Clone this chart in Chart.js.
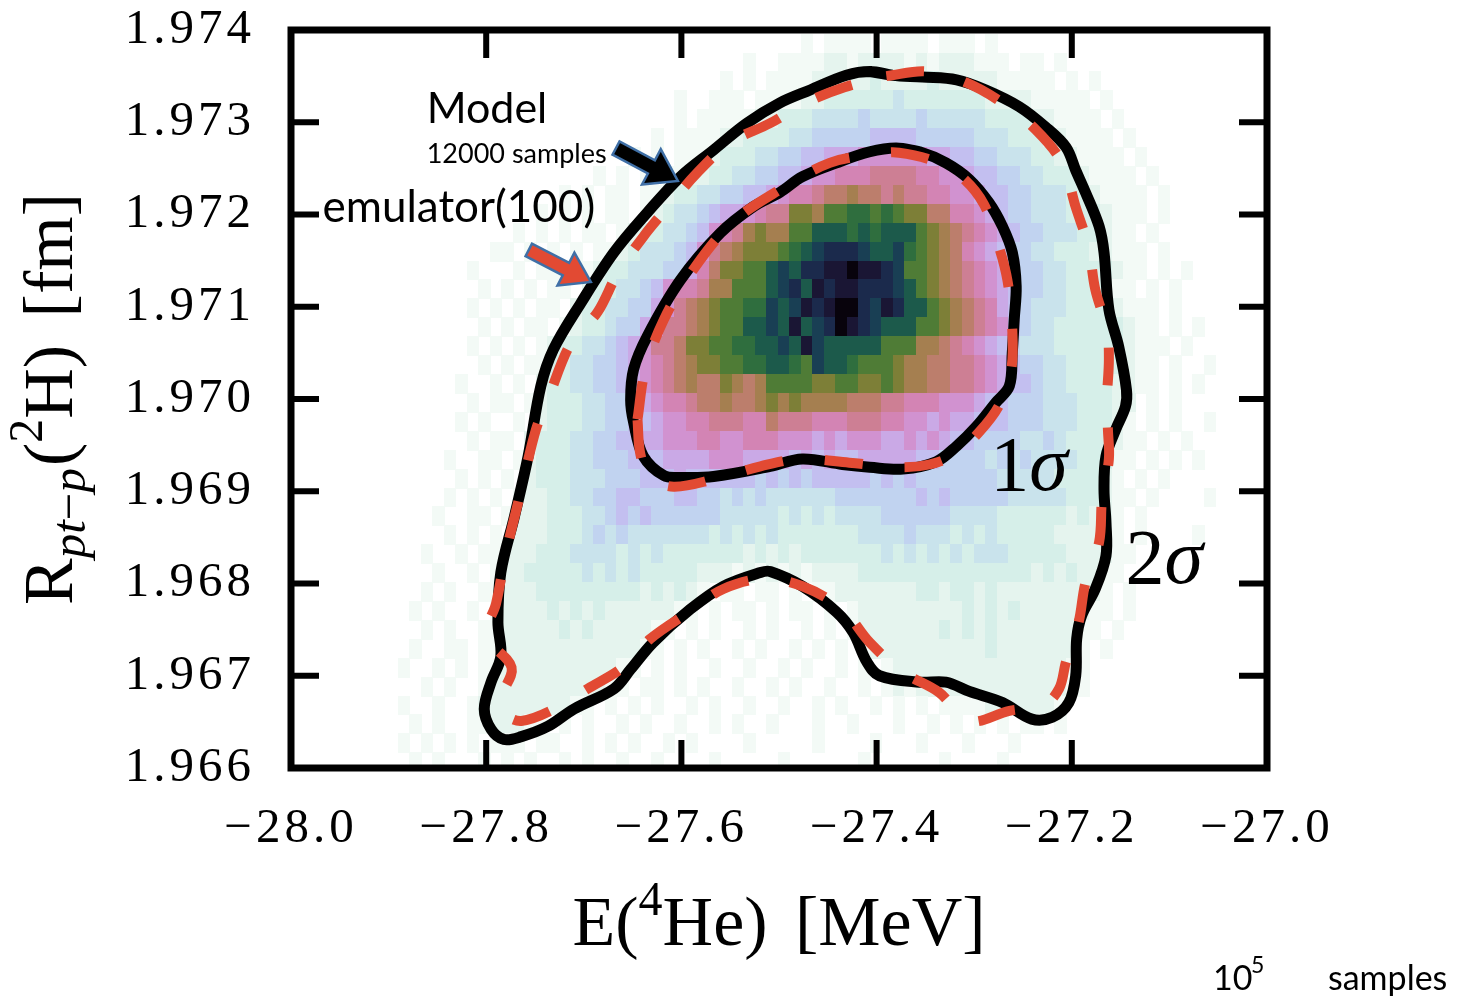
<!DOCTYPE html>
<html>
<head>
<meta charset="utf-8">
<script src="https://cdn.jsdelivr.net/npm/chart.js@4.4.1/dist/chart.umd.min.js"></script>
<style>
  html, body { margin: 0; padding: 0; background: #ffffff; }
  #wrap { width: 1460px; height: 1001px; position: relative; }
</style>
</head>
<body>
<div id="wrap"><canvas id="chart" width="1460" height="1001"></canvas></div>
<script>
// ---- axis ticks ----
const xTicks = [-28.0, -27.8, -27.6, -27.4, -27.2, -27.0];
const yTicks = [1.966, 1.967, 1.968, 1.969, 1.970, 1.971, 1.972, 1.973, 1.974];

// ---- 2D histogram of the 10^5 samples ----
// bin edges: x from histX0 in steps of histBinW, y from histY0 in steps of histBinH
const histX0 = -27.902;
const histBinW = 0.0118;
const histY0 = 1.96596;
const histBinH = 0.000205;
// density level per bin (0 = empty ... k = densest), top row first, groups of 10 bins
const histRows = [
  "0000000000 0000000000 0000000000 0000001011 1101111011 1010000000 0000000000 00",
  "0000000000 0000000000 0000000000 0100111122 1222212122 2111011010 0000000000 00",
  "0000000000 0000000000 0000000001 0101111222 2232222322 2221111101 0100000000 00",
  "0000000000 0000000000 0000010011 1011112233 3333433333 3322221111 1010000000 00",
  "0000000000 0000000000 0000010111 1122333444 4544445444 4433332211 1101000000 00",
  "0000000000 0000000000 0001011112 2333344555 5566665555 5444333221 1110100000 00",
  "0000000000 0000000000 0101011123 3344556677 7888888776 6554443322 1111010000 00",
  "0000000000 0000000010 1010112233 4455667889 99aaaa9988 7665544333 2111101000 00",
  "0000000000 0000010101 1011233445 5667899abb cbbabaa998 8766554443 3211110100 00",
  "0000000000 0001010101 1012344567 789aaddcee ffefeddbb9 9876554443 3321110100 00",
  "0000000000 0101010110 1233445689 acdcceeggg fgfgggedcb a987655444 3321101000 00",
  "0000000001 1010101011 23444568ab cdddefghii ihgghfedcb 9876554433 3221110100 00",
  "0000000100 0101101123 34445579bd deeghgiijj kjjiheedcb a987655443 3332110101 00",
  "0000000010 1010110233 4456899acc eeeghigjij jiiihgedcb a987655443 3331101010 00",
  "0000000101 0101102334 45578abcde effhghjijk kihjiggedc ba97654443 3332111010 00",
  "0000000010 1011012334 5578aabcde egghgjghik jihgggeedc ba98654433 3333211010 10",
  "0000000101 0101233445 678aabddee ffgghgjhgg gggeeeccba 9876544433 3333211101 00",
  "0000000010 1011334455 6789abcdde effggfehgg feeedccbba a987655443 3333211010 01",
  "0000001001 0102334455 6789abcbbd cbceeeedde eddedccbba a987665443 3332211010 10",
  "0000000101 1012333445 567899abbc bbcdcdcccc bbbaa99988 8766555444 3332201010 00",
  "0000001010 0102333445 56678899aa a99baaa999 aaa9988787 7666555444 3332101010 01",
  "0000000101 1023334455 6677888998 8999888787 8887787876 6555544543 3332110101 00",
  "0000010011 0123334455 5666777788 8777767676 6777776655 5545454444 3331101010 10",
  "0000001010 1023334445 5566676666 6656565666 6656565555 5554444433 3321010100 00",
  "0000010101 0122334455 6655566554 5454444445 5555556565 5555444443 3321101000 01",
  "0000100110 1222333445 6565555554 4444343434 4445555554 4443333332 3221010000 00",
  "0000010101 0222333454 5444444434 3434333333 3444454443 4343333322 2221010000 10",
  "0001001011 2223334444 3434333333 3232323333 3334343434 3444333332 2221100000 00",
  "0000100101 2233333434 3433333222 1212121222 2333333333 3333332323 2211000000 00",
  "0001010011 2223333333 3323232101 1011010112 2222223323 3232222222 2210100000 00",
  "0010100101 2222323232 2222211010 1101011010 1222222222 3232322222 2110100000 00",
  "0001010011 2222232322 2221101010 0101001010 1222222232 3232222222 1101000000 00",
  "0010011011 2222222222 2211010100 1010010101 0122222222 2232222222 1010000000 00",
  "0100101011 2222222222 1101010010 0100101001 0101222222 2222222221 1000000000 00",
  "0001010012 2222222221 1011010100 1001010010 0101212222 2222222221 1000000000 00",
  "0100100122 2222221101 0101001010 0100100101 0010101011 1122222210 0000000000 00",
  "0010100112 2211010100 1010010010 1001000100 1000100101 0101011010 0000000000 00",
  "0101010101 1101100101 0100101000 0100000100 0010001000 1000100000 0000000000 00",
  "0010100010 1010010100 1001000010 0000100000 0100000010 0001000000 0000000000 00"
];

// ---- confidence contours, [E(4He), R(2H)] ----
const modelSigma1 = [
  [-27.380,1.97272],[-27.356,1.97268],[-27.329,1.97256],[-27.305,1.97238],[-27.285,1.97213],
  [-27.271,1.97187],[-27.261,1.97159],[-27.257,1.97122],[-27.259,1.97086],[-27.261,1.97050],
  [-27.264,1.97014],[-27.278,1.96996],[-27.298,1.96970],[-27.318,1.96949],[-27.339,1.96932],
  [-27.373,1.96924],[-27.407,1.96926],[-27.435,1.96929],[-27.476,1.96935],[-27.509,1.96927],
  [-27.567,1.96916],[-27.601,1.96915],[-27.618,1.96917],[-27.639,1.96938],[-27.649,1.96975],
  [-27.652,1.96999],[-27.649,1.97032],[-27.635,1.97068],[-27.601,1.97129],[-27.560,1.97180],
  [-27.527,1.97208],[-27.499,1.97224],[-27.476,1.97241],[-27.441,1.97256],[-27.407,1.97268]
];
const modelSigma2 = [
  [-27.407,1.97355],[-27.384,1.97351],[-27.353,1.97349],[-27.318,1.97346],[-27.288,1.97335],
  [-27.254,1.97317],[-27.227,1.97295],[-27.206,1.97273],[-27.196,1.97248],[-27.186,1.97224],
  [-27.172,1.97187],[-27.167,1.97159],[-27.162,1.97097],[-27.152,1.97057],[-27.144,1.97010],
  [-27.145,1.96992],[-27.155,1.96967],[-27.165,1.96938],[-27.167,1.96902],[-27.165,1.96866],
  [-27.165,1.96830],[-27.176,1.96794],[-27.190,1.96765],[-27.195,1.96740],[-27.196,1.96700],
  [-27.203,1.96671],[-27.220,1.96655],[-27.241,1.96653],[-27.271,1.96671],[-27.305,1.96683],
  [-27.329,1.96693],[-27.356,1.96693],[-27.397,1.96700],[-27.410,1.96715],[-27.424,1.96747],
  [-27.441,1.96769],[-27.476,1.96797],[-27.509,1.96813],[-27.519,1.96812],[-27.557,1.96797],
  [-27.591,1.96772],[-27.629,1.96736],[-27.652,1.96707],[-27.669,1.96686],[-27.710,1.96664],
  [-27.737,1.96645],[-27.764,1.96634],[-27.782,1.96631],[-27.795,1.96642],[-27.802,1.96664],
  [-27.795,1.96693],[-27.785,1.96721],[-27.788,1.96758],[-27.785,1.96812],[-27.771,1.96873],
  [-27.757,1.96938],[-27.744,1.97014],[-27.731,1.97054],[-27.703,1.97104],[-27.669,1.97159],
  [-27.635,1.97202],[-27.601,1.97241],[-27.567,1.97270],[-27.533,1.97299],[-27.499,1.97321],
  [-27.468,1.97335],[-27.431,1.97351]
];
const emulatorSigma1 = [
  [-27.645,1.96978],[-27.637,1.97032],[-27.618,1.97086],[-27.588,1.97140],[-27.547,1.97192],
  [-27.499,1.97227],[-27.448,1.97256],[-27.404,1.97265],[-27.377,1.97267],[-27.336,1.97256],
  [-27.310,1.97238],[-27.290,1.97211],[-27.277,1.97173],[-27.266,1.97129],[-27.261,1.97075],
  [-27.262,1.97032],[-27.274,1.96994],[-27.295,1.96964],[-27.320,1.96940],[-27.346,1.96929],
  [-27.377,1.96926],[-27.428,1.96931],[-27.479,1.96935],[-27.519,1.96927],[-27.567,1.96913],
  [-27.608,1.96905],[-27.632,1.96915],[-27.642,1.96940]
];
const emulatorSigma2 = [
  [-27.390,1.97350],[-27.349,1.97355],[-27.308,1.97343],[-27.271,1.97321],[-27.237,1.97292],
  [-27.210,1.97256],[-27.196,1.97208],[-27.183,1.97165],[-27.176,1.97119],[-27.164,1.97075],
  [-27.162,1.97043],[-27.164,1.96999],[-27.163,1.96967],[-27.162,1.96935],[-27.169,1.96891],
  [-27.172,1.96845],[-27.186,1.96801],[-27.193,1.96758],[-27.206,1.96715],[-27.213,1.96686],
  [-27.229,1.96668],[-27.264,1.96662],[-27.305,1.96651],[-27.336,1.96682],[-27.373,1.96704],
  [-27.407,1.96736],[-27.435,1.96772],[-27.476,1.96797],[-27.516,1.96805],[-27.557,1.96794],
  [-27.591,1.96770],[-27.632,1.96740],[-27.659,1.96710],[-27.696,1.96686],[-27.734,1.96662],
  [-27.764,1.96651],[-27.780,1.96658],[-27.785,1.96675],[-27.774,1.96709],[-27.800,1.96743],
  [-27.790,1.96778],[-27.780,1.96832],[-27.764,1.96902],[-27.749,1.96967],[-27.737,1.96999],
  [-27.713,1.97061],[-27.686,1.97094],[-27.665,1.97137],[-27.639,1.97176],[-27.614,1.97208],
  [-27.584,1.97245],[-27.550,1.97278],[-27.509,1.97299],[-27.473,1.97321],[-27.433,1.97338]
];

// ---- styling ----
const levelColors = {
  '1': '#f3faf6', '2': '#e5f4ee', '3': '#d6efe9', '4': '#c9e3ec', '5': '#c1d3f0',
  '6': '#c3bff0', '7': '#caa9e6', '8': '#d192d0', '9': '#d384b4', 'a': '#cd7f94',
  'b': '#bc7e6c', 'c': '#a57f50', 'd': '#7d7f37', 'e': '#4f7c36', 'f': '#2f6e3e',
  'g': '#1c5a4b', 'h': '#193f54', 'i': '#1b2a4c', 'j': '#1a1634', 'k': '#08030c'
};
const EMU_RED = '#e24a33';
const SERIF = "'Liberation Serif', 'DejaVu Serif', serif";
const SANS = "Lato, 'Open Sans', sans-serif";

// closed loop; solid lines run one extra segment so the join stays smooth
const closed = (arr, overlap) =>
  arr.concat(overlap ? [arr[0], arr[1]] : [arr[0]]).map(([x, y]) => ({ x, y }));

// heat map cells, drawn under the contour lines
const heatmapPlugin = {
  id: 'heatmap',
  beforeDatasetsDraw(chart) {
    const { ctx, chartArea: a, scales: { x: xs, y: ys } } = chart;
    ctx.save();
    ctx.beginPath();
    ctx.rect(a.left, a.top, a.right - a.left, a.bottom - a.top);
    ctx.clip();
    const n = histRows.length;
    histRows.forEach((raw, i) => {
      const row = raw.replace(/\s+/g, '');
      const r = n - 1 - i;
      const yb = ys.getPixelForValue(histY0 + r * histBinH);
      const yt = ys.getPixelForValue(histY0 + (r + 1) * histBinH);
      for (let c = 0; c < row.length; c++) {
        const ch = row[c];
        if (ch === '0' || !levelColors[ch]) continue;
        const xl = xs.getPixelForValue(histX0 + c * histBinW);
        const xr = xs.getPixelForValue(histX0 + (c + 1) * histBinW);
        ctx.fillStyle = levelColors[ch];
        const X0 = Math.floor(xl), Y0 = Math.floor(yt);
        ctx.fillRect(X0, Y0, Math.ceil(xr) - X0, Math.ceil(yb) - Y0);
      }
    });
    ctx.restore();
  }
};

// heavy frame with inward ticks on all four sides
const framePlugin = {
  id: 'frame',
  beforeDraw(chart) {
    // tick labels get a little tracking, like the typeset originals
    chart.ctx.letterSpacing = '4px';
  },
  afterDatasetsDraw(chart) {
    const { ctx, chartArea: a, scales: { x: xs, y: ys } } = chart;
    const tickLen = 28;
    ctx.save();
    ctx.strokeStyle = '#000';
    ctx.lineCap = 'butt';
    ctx.lineWidth = 6;
    ctx.beginPath();
    xTicks.forEach(v => {
      const px = xs.getPixelForValue(v);
      ctx.moveTo(px, a.bottom); ctx.lineTo(px, a.bottom - tickLen);
      ctx.moveTo(px, a.top); ctx.lineTo(px, a.top + tickLen);
    });
    yTicks.forEach(v => {
      const py = ys.getPixelForValue(v);
      ctx.moveTo(a.left, py); ctx.lineTo(a.left + tickLen, py);
      ctx.moveTo(a.right, py); ctx.lineTo(a.right - tickLen, py);
    });
    ctx.stroke();
    ctx.lineWidth = 7;
    ctx.lineJoin = 'miter';
    ctx.strokeRect(a.left, a.top, a.right - a.left, a.bottom - a.top);
    ctx.restore();
  }
};

// text runs with super/subscripts
function drawRuns(ctx, runs, x, y, align) {
  let total = 0;
  runs.forEach(r => {
    ctx.font = r.font;
    r.w = ctx.measureText(r.text).width + (r.gap || 0);
    total += r.w;
  });
  let cx = align === 'center' ? x - total / 2 : x;
  runs.forEach(r => {
    ctx.font = r.font;
    ctx.fillText(r.text, cx, y + (r.dy || 0));
    cx += r.w;
  });
}

function blockArrow(ctx, tail, tip, bodyW, headW, headLen, fill, stroke) {
  const dx = tip[0] - tail[0], dy = tip[1] - tail[1];
  const L = Math.hypot(dx, dy);
  const ux = dx / L, uy = dy / L, nx = -uy, ny = ux;
  const neck = [tip[0] - ux * headLen, tip[1] - uy * headLen];
  const pts = [
    [tail[0] + nx * bodyW / 2, tail[1] + ny * bodyW / 2],
    [neck[0] + nx * bodyW / 2, neck[1] + ny * bodyW / 2],
    [neck[0] + nx * headW / 2, neck[1] + ny * headW / 2],
    tip,
    [neck[0] - nx * headW / 2, neck[1] - ny * headW / 2],
    [neck[0] - nx * bodyW / 2, neck[1] - ny * bodyW / 2],
    [tail[0] - nx * bodyW / 2, tail[1] - ny * bodyW / 2]
  ];
  ctx.beginPath();
  pts.forEach((p, i) => i ? ctx.lineTo(p[0], p[1]) : ctx.moveTo(p[0], p[1]));
  ctx.closePath();
  ctx.fillStyle = fill;
  ctx.fill();
  ctx.lineWidth = 2.5;
  ctx.strokeStyle = stroke;
  ctx.lineJoin = 'miter';
  ctx.stroke();
}

// labels, arrows and axis titles
const notes = {
  model: [-27.861, 1.972992],
  modelSamples: [-27.861, 1.972559],
  emulator: [-27.9677, 1.971919],
  modelArrow: [[-27.667, 1.97272], [-27.6036, 1.972364]],
  emulatorArrow: [[-27.7564, 1.971616], [-27.6928, 1.971269]],
  sigma1: [-27.2836, 1.969016],
  sigma2: [-27.1451, 1.968008]
};

const annotationPlugin = {
  id: 'annotations',
  afterDraw(chart) {
    const { ctx, chartArea: a, scales: { x: xs, y: ys } } = chart;
    ctx.letterSpacing = '0px';
    const P = v => [xs.getPixelForValue(v[0]), ys.getPixelForValue(v[1])];
    ctx.save();
    ctx.fillStyle = '#000';
    ctx.textAlign = 'left';
    ctx.textBaseline = 'alphabetic';

    // sample labels
    let p = P(notes.model);
    ctx.font = `43px ${SANS}`;
    ctx.fillText('Model', p[0], p[1]);
    p = P(notes.modelSamples);
    ctx.font = `27px ${SANS}`;
    ctx.fillText('12000 samples', p[0], p[1]);
    p = P(notes.emulator);
    ctx.font = `44px ${SANS}`;
    ctx.fillText('emulator(100)', p[0], p[1]);

    blockArrow(ctx, P(notes.modelArrow[0]), P(notes.modelArrow[1]), 15, 40, 30, '#000000', '#3f6fa6');
    blockArrow(ctx, P(notes.emulatorArrow[0]), P(notes.emulatorArrow[1]), 14, 37, 28, EMU_RED, '#3f6fa6');

    // contour levels
    ctx.fillStyle = '#000';
    p = P(notes.sigma1);
    drawRuns(ctx, [
      { text: '1', font: `78px ${SERIF}` },
      { text: 'σ', font: `italic 78px ${SERIF}` }
    ], p[0], p[1], 'left');
    p = P(notes.sigma2);
    drawRuns(ctx, [
      { text: '2', font: `78px ${SERIF}` },
      { text: 'σ', font: `italic 78px ${SERIF}` }
    ], p[0], p[1], 'left');

    // x axis title
    const big = `70px ${SERIF}`, sup = `48px ${SERIF}`;
    drawRuns(ctx, [
      { text: 'E(', font: big },
      { text: '4', font: sup, dy: -30 },
      { text: 'He)', font: big, gap: 10 },
      { text: ' ', font: big },
      { text: '[MeV]', font: big }
    ], (a.left + a.right) / 2, 945, 'center');

    // y axis title
    ctx.save();
    ctx.translate(72, (a.top + a.bottom) / 2);
    ctx.rotate(-Math.PI / 2);
    drawRuns(ctx, [
      { text: 'R', font: big },
      { text: 'pt', font: `italic 49px ${SERIF}`, dy: 13 },
      { text: '\u2212', font: `49px ${SERIF}`, dy: 13 },
      { text: 'p', font: `italic 49px ${SERIF}`, dy: 13, gap: 2 },
      { text: '(', font: big },
      { text: '2', font: sup, dy: -30 },
      { text: 'H)', font: big, gap: 10 },
      { text: ' ', font: big },
      { text: '[fm]', font: big }
    ], 0, 0, 'center');
    ctx.restore();

    // sample count caption
    ctx.font = `34px ${SANS}`;
    ctx.fillText('10', 1213, 990);
    ctx.font = `23px ${SANS}`;
    ctx.fillText('5', 1251, 973);
    ctx.font = `34px ${SANS}`;
    ctx.fillText('samples', 1328, 990);
    ctx.restore();
  }
};

const lineStyle = (color, width, dash, order) => ({
  showLine: true, borderColor: color, borderWidth: width, borderDash: dash,
  borderCapStyle: 'butt', borderJoinStyle: 'round', pointRadius: 0,
  tension: 0.35, fill: false, order
});

new Chart(document.getElementById('chart'), {
  type: 'scatter',
  data: {
    datasets: [
      Object.assign({ label: 'emulator(100) 1σ', data: closed(emulatorSigma1, false) }, lineStyle(EMU_RED, 10, [38, 42], 0)),
      Object.assign({ label: 'emulator(100) 2σ', data: closed(emulatorSigma2, false) }, lineStyle(EMU_RED, 10, [38, 42], 0)),
      Object.assign({ label: 'Model 1σ', data: closed(modelSigma1, true) }, lineStyle('#000000', 11, [], 1)),
      Object.assign({ label: 'Model 2σ', data: closed(modelSigma2, true) }, lineStyle('#000000', 11, [], 1))
    ]
  },
  options: {
    responsive: false,
    animation: false,
    events: [],
    devicePixelRatio: 1,
    layout: { padding: { left: 0, top: 30, right: 193, bottom: 0 } },
    plugins: { legend: { display: false }, tooltip: { enabled: false } },
    scales: {
      x: {
        type: 'linear', min: -28, max: -27,
        afterBuildTicks: s => { s.ticks = xTicks.map(v => ({ value: v })); },
        afterFit: s => { s.height = 233; s.paddingLeft = 0; s.paddingRight = 0; },
        grid: { display: false, drawTicks: false },
        border: { display: false },
        ticks: {
          padding: 32, color: '#000', autoSkip: false, maxRotation: 0,
          font: { family: SERIF, size: 49 },
          callback: v => (v < 0 ? '\u2212' : '') + Math.abs(v).toFixed(1)
        }
      },
      y: {
        type: 'linear', min: 1.966, max: 1.974,
        afterBuildTicks: s => { s.ticks = yTicks.map(v => ({ value: v })); },
        afterFit: s => { s.width = 291; s.paddingTop = 0; s.paddingBottom = 0; },
        grid: { display: false, drawTicks: false },
        border: { display: false },
        ticks: {
          padding: 36, color: '#000', autoSkip: false,
          font: { family: SERIF, size: 49 },
          callback: v => v.toFixed(3)
        }
      }
    }
  },
  plugins: [heatmapPlugin, framePlugin, annotationPlugin]
});
</script>
</body>
</html>
